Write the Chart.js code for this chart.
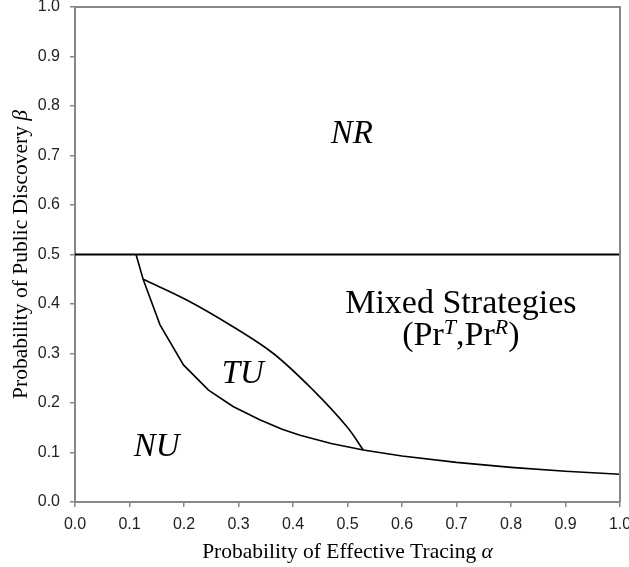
<!DOCTYPE html>
<html>
<head>
<meta charset="utf-8">
<script src="https://cdn.jsdelivr.net/npm/chart.js@4"></script>
<style>
  html, body { margin: 0; padding: 0; background: #fff; }
  #wrap { width: 629px; height: 567px; position: relative; }
</style>
</head>
<body>
<div id="wrap"><canvas id="chart"></canvas></div>
<script>
// NR boundary: beta = 0.5 across the whole range
const nrAlpha = [0, 1];
const nrBeta = [0.5, 0.5];

// lower boundary (TU/NU and Mixed/NU)
const nuAlpha = [0.112, 0.125, 0.156, 0.199, 0.245, 0.29, 0.339, 0.38, 0.413, 0.47, 0.529, 0.6, 0.7, 0.8, 0.9, 1.0];
const nuBeta  = [0.5, 0.45, 0.358, 0.277, 0.226, 0.193, 0.166, 0.147, 0.135, 0.118, 0.105, 0.093, 0.080, 0.070, 0.062, 0.056];

// upper boundary of TU
const tuAlpha = [0.125, 0.205, 0.29, 0.364, 0.437, 0.499, 0.529];
const tuBeta  = [0.45, 0.408, 0.354, 0.300, 0.226, 0.152, 0.105];

const xTicks = [0, 0.1, 0.2, 0.3, 0.4, 0.5, 0.6, 0.7, 0.8, 0.9, 1.0];

const toPoints = (xs, ys) => xs.map((x, i) => ({ x: x, y: ys[i] }));

const axisGray = '#878787';
const serif = '"Liberation Serif", "DejaVu Serif", serif';

// frame, axis titles and region labels
const labelPlugin = {
    id: 'regionLabels',
    afterDraw(chart) {
        const ctx = chart.ctx;
        const a = chart.chartArea;
        const xs = chart.scales.x;
        const ys = chart.scales.y;

        // top and right edges of the plot box
        ctx.save();
        ctx.strokeStyle = axisGray;
        ctx.lineWidth = 2;
        ctx.beginPath();
        ctx.moveTo(a.left, a.top);
        ctx.lineTo(a.right, a.top);
        ctx.lineTo(a.right, a.bottom);
        ctx.stroke();
        ctx.restore();

        ctx.save();
        ctx.fillStyle = '#000';
        ctx.textBaseline = 'alphabetic';
        ctx.textAlign = 'center';

        const put = (text, alpha, beta, font) => {
            ctx.font = font;
            ctx.fillText(text, xs.getPixelForValue(alpha), ys.getPixelForValue(beta));
        };
        const big = 'italic 33px ' + serif;
        put('NR', 0.508, 0.725, big);
        put('TU', 0.308, 0.240, big);
        put('NU', 0.150, 0.093, big);
        put('Mixed Strategies', 0.708, 0.382, '34px ' + serif);

        // (Pr^T,Pr^R) line built from parts
        const parts = [
            { t: '(Pr', f: '34px ' + serif, dy: 0 },
            { t: 'T', f: 'italic 22px ' + serif, dy: -11 },
            { t: ',Pr', f: '34px ' + serif, dy: 0 },
            { t: 'R', f: 'italic 22px ' + serif, dy: -11 },
            { t: ')', f: '34px ' + serif, dy: 0 }
        ];
        let total = 0;
        parts.forEach(p => { ctx.font = p.f; p.w = ctx.measureText(p.t).width; total += p.w; });
        let px = xs.getPixelForValue(0.708) - total / 2;
        const py = ys.getPixelForValue(0.317);
        ctx.textAlign = 'left';
        parts.forEach(p => {
            ctx.font = p.f;
            ctx.fillText(p.t, px, py + p.dy);
            px += p.w;
        });

        const tf = '21.5px ' + serif;
        const tfi = 'italic 21.5px ' + serif;

        // x axis title
        const xt1 = 'Probability of Effective Tracing ';
        const xt2 = '\u03b1';
        ctx.font = tf;
        const w1 = ctx.measureText(xt1).width;
        ctx.font = tfi;
        const w2 = ctx.measureText(xt2).width;
        let tx = (a.left + a.right) / 2 - (w1 + w2) / 2;
        ctx.font = tf;
        ctx.fillText(xt1, tx, 558);
        ctx.font = tfi;
        ctx.fillText(xt2, tx + w1, 558);

        // y axis title
        const yt1 = 'Probability of Public Discovery ';
        const yt2 = '\u03b2';
        ctx.font = tf;
        const h1 = ctx.measureText(yt1).width;
        ctx.font = tfi;
        const h2 = ctx.measureText(yt2).width;
        ctx.translate(27, (a.top + a.bottom) / 2);
        ctx.rotate(-Math.PI / 2);
        let ty = -(h1 + h2) / 2;
        ctx.font = tf;
        ctx.fillText(yt1, ty, 0);
        ctx.font = tfi;
        ctx.fillText(yt2, ty + h1, 0);
        ctx.restore();
    }
};

const lineStyle = {
    showLine: true,
    borderColor: '#000',
    pointRadius: 0,
    pointHoverRadius: 0,
    fill: false
};

new Chart(document.getElementById('chart').getContext('2d'), {
    type: 'scatter',
    data: {
        datasets: [
            { ...lineStyle, label: 'NR', data: toPoints(nrAlpha, nrBeta), borderWidth: 2, tension: 0 },
            { ...lineStyle, label: 'NU', data: toPoints(nuAlpha, nuBeta), borderWidth: 1.6, tension: 0 },
            { ...lineStyle, label: 'TU', data: toPoints(tuAlpha, tuBeta), borderWidth: 1.6, tension: 0.35 }
        ]
    },
    options: {
        responsive: true,
        maintainAspectRatio: false,
        animation: false,
        events: [],
        layout: { padding: { left: 0, right: 9, top: 7, bottom: 0 } },
        plugins: {
            legend: { display: false },
            tooltip: { enabled: false }
        },
        scales: {
            x: {
                type: 'linear',
                min: 0,
                max: 1,
                afterBuildTicks: s => { s.ticks = xTicks.map(v => ({ value: v })); },
                afterFit: s => { s.height = 65; s.paddingLeft = 0; s.paddingRight = 0; },
                border: { color: axisGray, width: 2 },
                grid: { drawOnChartArea: false, drawTicks: true, tickLength: 5, color: axisGray, lineWidth: 1.5 },
                ticks: {
                    padding: 8,
                    color: '#222',
                    maxRotation: 0,
                    font: { family: '"Liberation Sans", Arial, sans-serif', size: 16 },
                    callback: v => v.toFixed(1)
                }
            },
            y: {
                type: 'linear',
                min: 0,
                max: 1,
                afterBuildTicks: s => { s.ticks = xTicks.map(v => ({ value: v })); },
                afterFit: s => { s.width = 75; s.paddingTop = 0; s.paddingBottom = 0; },
                border: { color: axisGray, width: 2 },
                grid: { drawOnChartArea: false, drawTicks: true, tickLength: 5, color: axisGray, lineWidth: 1.5 },
                ticks: {
                    padding: 10,
                    color: '#222',
                    font: { family: '"Liberation Sans", Arial, sans-serif', size: 16 },
                    callback: v => v.toFixed(1)
                }
            }
        }
    },
    plugins: [labelPlugin]
});
</script>
</body>
</html>
